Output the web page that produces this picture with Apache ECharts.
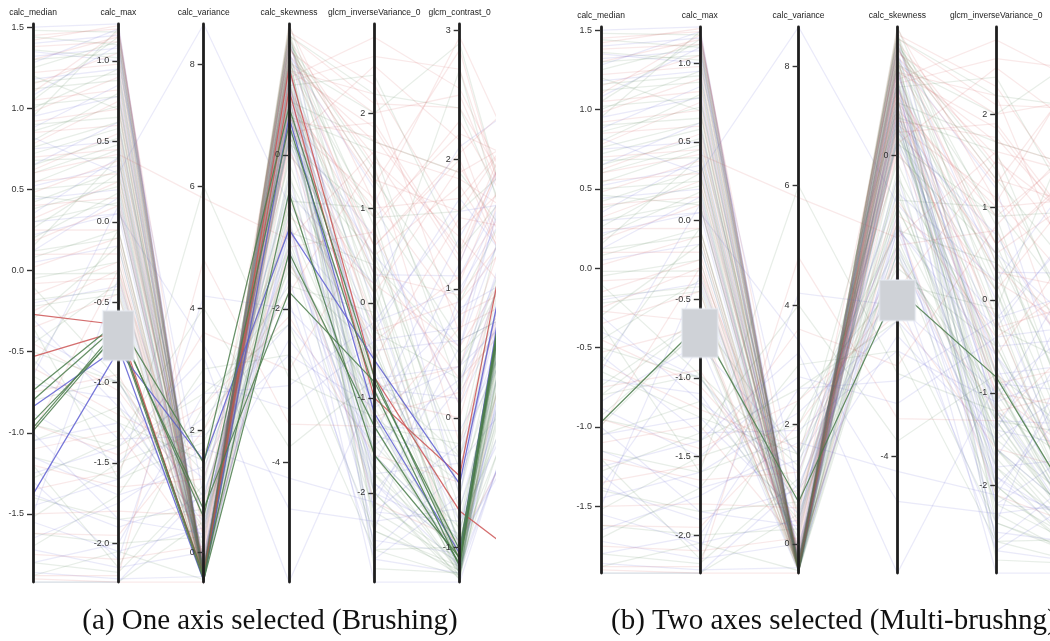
<!DOCTYPE html>
<html><head><meta charset="utf-8">
<script src="https://cdn.jsdelivr.net/npm/echarts@6/dist/echarts.min.js"></script>
<style>html,body{margin:0;padding:0;background:#fff}#c{width:1050px;height:641px}</style>
</head><body><div id="c"></div>
<script>
// axis names (the 7th axis of panel a is cut off by the figure edge, so it has no visible name)
const dimNames = ['calc_median','calc_max','calc_variance','calc_skewness','glcm_inverseVariance_0','glcm_contrast_0',''];
const dimMin = [-1.92,-2.24,-0.49,-5.55,-2.94,-1.27,-1.5];
const dimMax = [1.52,1.23,8.66,1.70,2.94,3.05,3.0];
const tickValues = [
  [-1.5,-1.0,-0.5,0,0.5,1.0,1.5],
  [-2.0,-1.5,-1.0,-0.5,0,0.5,1.0],
  [0,2,4,6,8],
  [-4,-2,0],
  [-2,-1,0,1,2],
  [-1,0,1,2,3],
  []
];
const tickDecimals = [1,1,0,0,0,0,0];

// brushed intervals
const brushA_max = [[-0.863,-0.553]];
const brushB_max = [[-0.87,-0.56]];
const brushB_skew = [[-2.2,-1.66]];

// lines: [median, max, variance, skewness, inverseVariance, contrast, nextAxis]
const redLines = [
[1.45,1.20,-0.44,1.55,2.10,2.40,1.2],[1.38,1.12,-0.40,1.20,1.70,1.90,2.2],[1.30,1.15,-0.46,0.95,2.60,2.70,0.6],
[1.22,0.98,-0.35,1.40,1.30,1.60,2.5],[1.15,1.05,-0.42,0.70,0.90,2.20,1.8],[1.05,0.82,-0.30,1.10,1.85,1.20,2.8],
[0.98,0.90,-0.44,0.40,1.10,0.80,1.0],[0.92,0.70,-0.38,1.60,2.30,1.45,2.0],[0.85,0.60,-0.25,0.85,0.60,2.00,0.3],
[0.78,0.75,-0.47,1.30,1.55,1.05,2.6],[0.70,0.45,-0.33,-0.80,0.20,0.55,1.5],[0.62,0.55,-0.41,1.00,2.80,2.55,1.1],
[0.55,0.30,-0.20,0.60,1.00,1.70,2.4],[0.48,0.38,-0.45,1.45,0.40,0.30,0.9],[0.40,0.15,-0.36,0.30,1.90,1.25,2.7],
[0.32,0.25,-0.10,0.90,-0.30,0.90,1.6],[0.25,-0.05,-0.43,1.25,1.25,2.85,0.4],[0.18,0.10,-0.28,-1.20,0.75,0.10,2.1],
[0.10,-0.20,-0.40,0.55,-0.60,1.55,1.3],[0.02,-0.10,-0.46,1.10,2.20,0.65,2.9],[-0.08,-0.35,-0.15,0.05,0.10,1.95,0.7],
[-0.15,-0.25,-0.38,1.50,1.45,-0.20,1.9],[-0.35,-0.45,-0.42,0.75,-0.90,0.40,2.3],[1.42,1.22,-0.48,1.68,1.05,2.95,1.4],
[1.10,1.18,0.20,0.15,2.50,2.15,0.2],[-0.45,-1.05,0.80,-0.60,-0.40,1.10,2.0],[-0.60,-1.20,1.60,-1.40,-1.20,0.20,1.2],
[-0.75,-0.95,0.30,0.35,0.50,1.80,0.6],[-0.95,-1.45,2.40,-2.10,-1.60,-0.50,2.5],[-1.10,-1.30,0.00,0.90,0.30,0.95,1.7],
[-1.20,-1.65,1.20,-0.90,-2.10,-0.95,0.1],[-1.35,-1.55,3.60,-2.80,0.80,2.30,1.0],[-1.50,-1.80,0.60,0.10,-1.00,0.00,2.2],
[-1.62,-1.95,2.00,-1.80,1.50,1.40,0.5],[-1.75,-2.10,0.10,0.60,-0.20,-1.10,1.8],[-1.90,-2.24,-0.49,1.20,0.60,2.05,2.6],
[-1.88,-2.20,4.80,-3.50,-1.30,0.70,0.9],[0.60,0.42,5.80,-1.10,1.60,1.85,1.3],[-0.25,-0.30,0.50,1.35,2.00,2.50,0.8],
[-1.00,-0.30,-0.30,0.45,1.75,1.30,2.8],
[-0.27,-0.64,-0.45,1.13,-0.78,-0.72,-1.45],[-0.53,-0.68,-0.38,0.84,-1.00,-0.45,2.90]
];
const blueLines = [
[1.50,1.23,-0.45,1.10,-0.50,0.60,0.8],[1.40,1.16,-0.38,0.60,-1.40,-0.30,1.6],[1.32,1.08,-0.42,1.45,0.30,1.10,2.3],
[1.28,1.20,-0.30,0.20,-2.20,-0.80,0.4],[1.18,0.95,-0.46,0.90,-0.80,0.40,1.9],[1.08,1.10,-0.40,1.30,1.20,-0.60,2.7],
[0.95,0.78,-0.22,-1.30,-1.70,0.85,1.1],[0.88,0.85,-0.44,0.70,0.00,-1.00,0.2],[0.75,0.50,-0.35,1.55,-1.10,1.40,2.5],
[0.65,0.62,-0.47,0.30,0.70,0.10,1.4],[0.52,0.35,-0.28,1.00,-2.60,-0.40,2.1],[0.44,0.20,-0.41,-1.00,-0.30,1.70,0.7],
[0.35,0.40,-0.12,1.20,-1.90,-1.15,1.7],[0.22,0.05,-0.45,0.50,0.50,0.55,2.9],[0.12,0.15,-0.33,1.40,-1.30,-0.10,1.0],
[0.05,-0.15,-0.44,-0.90,-2.40,0.95,2.4],[-0.20,-0.40,-0.25,0.80,-0.70,-1.20,0.5],[1.35,1.00,0.90,-2.40,-1.50,0.30,1.2],
[0.82,0.30,8.66,-0.65,-0.20,1.00,2.0],[0.30,0.05,3.40,-4.60,-2.30,-0.70,1.5],[-0.40,-1.00,0.70,-1.20,-2.00,-0.90,2.2],
[-0.55,-1.35,1.90,-2.60,-1.10,0.40,0.9],[-0.70,-1.10,0.20,0.55,-2.70,-1.20,1.8],[-0.88,-1.50,2.80,-3.30,-0.40,0.70,2.6],
[-1.05,-1.25,0.50,-0.30,-1.80,-0.35,0.3],[-1.15,-1.70,1.40,-1.90,-2.50,-1.05,1.4],[-1.25,-1.40,3.20,-5.55,-0.90,0.15,2.0],
[-1.38,-1.90,0.90,-0.80,-2.94,-1.27,0.6],[-1.45,-1.60,2.20,-2.20,-1.40,1.20,2.7],[-1.55,-2.05,0.40,0.20,-0.60,-0.80,1.1],
[-1.65,-1.75,1.70,-4.20,-2.10,0.55,2.3],[-1.72,-2.15,0.00,-1.00,-1.90,-1.00,0.8],[-1.80,-2.00,2.60,-3.00,-0.20,1.60,1.6],
[-1.92,-2.24,1.00,-1.60,-2.70,-0.60,2.8],[-1.86,-2.22,-0.40,0.70,-1.20,-1.15,0.4],[-1.30,-2.10,4.20,-2.00,-1.00,0.80,1.9],
[-1.00,-1.85,0.30,0.95,-2.20,-0.20,1.0],[-0.30,-1.15,1.20,-0.50,0.20,2.10,2.5],[-0.65,0.10,-0.35,0.40,-1.60,-0.95,0.0],
[-1.50,-0.35,-0.20,1.15,-2.00,0.25,2.2],
[-0.84,-0.78,-0.47,0.49,-1.16,-1.05,2.95],[-1.38,-0.80,1.50,-0.97,-0.60,-0.51,2.60]
];
const greenLines = [
[1.48,1.18,-0.43,1.50,0.80,-0.90,2.5],[1.36,1.02,-0.36,1.00,-0.60,-1.10,1.9],[1.25,1.12,-0.47,0.50,1.60,0.20,2.8],
[1.12,0.88,-0.40,1.62,-1.20,-1.20,2.2],[1.00,0.95,-0.27,0.80,0.30,-0.70,1.2],[0.90,0.65,-0.45,1.30,-1.80,-1.05,2.6],
[0.80,0.80,-0.38,-0.60,1.00,0.60,0.8],[0.72,0.58,-0.46,1.15,-0.20,-1.15,2.9],[0.60,0.48,-0.30,0.65,-2.30,-1.22,1.5],
[0.50,0.25,-0.42,1.45,0.60,-0.40,2.4],[0.42,0.32,-0.18,-1.40,-1.00,-1.00,1.1],[0.30,0.12,-0.45,0.90,2.40,1.30,2.0],
[0.20,0.18,-0.35,1.58,-0.40,-1.18,2.7],[0.08,-0.05,-0.47,0.35,-1.50,-0.85,0.6],[-0.05,-0.25,-0.25,1.05,0.10,-1.10,2.3],
[-0.18,-0.42,-0.44,0.60,-2.00,-1.25,1.7],[-0.30,-0.15,-0.38,1.40,1.30,0.90,2.1],[-0.45,-0.38,-0.10,0.20,-0.80,-1.05,2.9],
[1.20,0.70,-0.44,1.70,0.40,-1.20,1.3],[0.65,0.52,0.40,-0.90,-1.30,-0.20,2.6],[0.15,0.40,-0.46,0.80,-2.60,-1.22,2.5],
[0.95,1.20,-0.42,1.20,2.00,2.90,0.4],[-0.50,-1.00,0.90,-0.70,-1.10,-1.10,2.4],[-0.65,-1.25,1.50,-1.50,-0.50,-0.95,1.6],
[-0.80,-0.98,0.10,0.75,-1.70,-1.20,2.8],[-0.95,-1.40,2.60,-2.20,-2.40,-1.15,0.7],[-1.05,-1.15,0.40,0.25,-0.30,0.30,2.0],
[-1.15,-1.60,1.80,-1.20,-1.40,-1.08,2.6],[-1.28,-1.35,4.00,-3.80,-0.80,-0.30,1.3],[-1.40,-1.85,0.70,-0.40,-2.00,-1.22,2.9],
[-1.52,-1.50,2.00,-1.00,0.40,0.50,1.0],[-1.62,-2.00,0.25,0.50,-1.30,-1.18,2.2],[-1.70,-1.70,3.00,-2.60,-2.60,-1.00,0.5],
[-1.80,-2.18,1.10,-0.10,-0.90,-1.25,2.7],[-1.88,-2.05,-0.45,1.00,-1.60,-0.95,1.8],[-1.92,-2.24,0.50,-1.30,-2.20,-1.12,2.5],
[-0.35,-1.60,6.00,-2.90,-1.20,-0.50,1.4],[-0.10,-0.98,1.30,0.15,0.90,1.60,2.1],[-1.20,-2.15,2.40,-1.70,-0.10,2.70,0.2],
[-0.60,-0.05,-0.30,1.25,-2.80,-1.20,2.8],
[1.44,1.10,-0.41,1.30,0.20,-1.00,2.4],[1.16,0.92,-0.45,0.95,-0.90,-1.15,2.7],[1.02,0.78,-0.33,1.45,1.40,0.40,1.6],
[0.86,0.72,-0.46,0.45,-1.60,-1.20,2.9],[0.68,0.40,-0.39,1.20,0.90,-0.60,2.0],[0.54,0.45,-0.47,-0.20,-2.10,-1.10,2.6],
[0.38,0.22,-0.42,1.62,-0.10,-1.22,2.2],[0.26,0.30,-0.30,0.70,1.70,1.90,0.9],[0.12,-0.10,-0.46,-0.70,-1.20,-1.05,2.8],
[-0.02,-0.32,-0.40,1.35,-2.40,-1.18,1.9],[-0.22,-0.45,-0.44,0.00,0.50,-0.30,2.5],[1.30,1.05,-0.46,-0.30,-0.50,-0.95,1.2],
[0.76,0.62,-0.28,1.55,2.20,2.40,0.7],[0.46,0.10,-0.45,-1.10,-1.80,-1.25,2.4],[1.05,1.15,-0.43,0.25,0.10,-0.80,2.0],
[-0.74,-0.62,1.46,0.62,-0.78,-1.10,2.90],[-0.80,-0.64,0.57,0.39,-0.92,-1.15,2.95],[-0.97,-0.66,0.70,-1.78,-0.83,-1.02,2.80],
[-0.93,-0.70,-0.46,-1.27,-1.30,-1.13,2.85],[-0.99,-0.68,-0.40,-0.49,-1.60,-1.08,2.70]
];

const lineColors = {red:'rgb(205,85,85)', blue:'rgb(95,95,210)', green:'rgb(75,125,75)'};

// interleave the three classes so overlapping faint lines blend to grey
const items = [];
const groups = [['red', redLines], ['blue', blueLines], ['green', greenLines]];
const maxLen = Math.max(redLines.length, blueLines.length, greenLines.length);
for (let i = 0; i < maxLen; i++) {
  groups.forEach(([k, arr]) => {
    if (i < arr.length) items.push({value: arr[i], lineStyle: {color: lineColors[k]}});
  });
}

function makeAxes(pIdx, count, prefix, brushWidth) {
  const axes = [];
  for (let d = 0; d < count; d++) {
    const hidden = dimNames[d] === '';
    const dec = tickDecimals[d];
    axes.push({
      id: prefix + d, dim: d, parallelIndex: pIdx, type: 'value',
      name: dimNames[d], min: dimMin[d], max: dimMax[d],
      nameLocation: 'end', nameGap: 7,
      nameTextStyle: {fontSize: 8.5, color: '#222', fontFamily: 'Liberation Sans'},
      nameTruncate: {maxWidth: 300},
      axisLine: {show: !hidden, lineStyle: {color: '#1e1e1e', width: 2.8}},
      axisTick: {show: !hidden, inside: false, length: -6, lineStyle: {color: '#333', width: 1.4}, customValues: tickValues[d]},
      axisLabel: {show: !hidden, inside: false, fontSize: 9, color: '#333', margin: -9, align: 'right', fontFamily: 'Liberation Sans',
        customValues: tickValues[d], formatter: v => Number(v).toFixed(dec)},
      splitLine: {show: false},
      areaSelectStyle: {width: brushWidth, borderWidth: 2.5, borderColor: '#ffffff', color: 'rgb(105,105,105)', opacity: 0.42}
    });
  }
  return axes;
}

function makeSeries(pIdx) {
  return {
    type: 'parallel', parallelIndex: pIdx, data: items, smooth: false,
    lineStyle: {width: 1.25, opacity: 0.8},
    inactiveOpacity: 0.13, activeOpacity: 0.85, silent: true
  };
}

const chart = echarts.init(document.getElementById('c'), null, {renderer: 'canvas'});
chart.setOption({
  animation: false,
  backgroundColor: '#ffffff',
  parallel: [
    {left: 33, top: 24, width: 512, height: 558, layout: 'horizontal'},
    {left: 601, top: 27, width: 494, height: 546, layout: 'horizontal'}
  ],
  parallelAxis: makeAxes(0, 7, 'a', 31).concat(makeAxes(1, 6, 'b', 36)),
  series: [makeSeries(0), makeSeries(1)],
  graphic: {elements: [
    {type: 'rect', z: 100, shape: {x: 496, y: 0, width: 62, height: 600}, style: {fill: '#ffffff'}},
    {type: 'text', z: 101, x: 270, y: 621, style: {text: '(a) One axis selected (Brushing)', fontSize: 29, fontFamily: 'Liberation Serif', fill: '#111', align: 'center', verticalAlign: 'middle'}},
    {type: 'text', z: 101, x: 611, y: 621, style: {text: '(b) Two axes selected (Multi-brushng)', fontSize: 29, fontFamily: 'Liberation Serif', fill: '#111', align: 'left', verticalAlign: 'middle'}}
  ]}
});
chart.dispatchAction({type: 'axisAreaSelect', parallelAxisId: 'a1', intervals: brushA_max});
chart.dispatchAction({type: 'axisAreaSelect', parallelAxisId: 'b1', intervals: brushB_max});
chart.dispatchAction({type: 'axisAreaSelect', parallelAxisId: 'b3', intervals: brushB_skew});
// re-issue the first selection so every axis view is redrawn with its selection box
chart.dispatchAction({type: 'axisAreaSelect', parallelAxisId: 'a1', intervals: brushA_max});
</script>
</body></html>
